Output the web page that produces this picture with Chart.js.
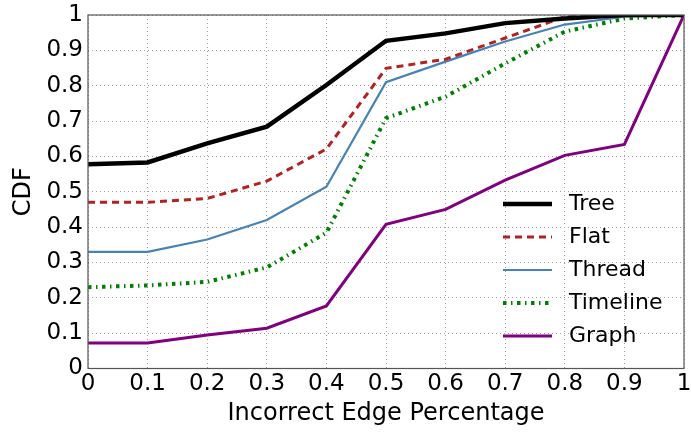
<!DOCTYPE html>
<html>
<head>
<meta charset="utf-8">
<script src="https://cdn.jsdelivr.net/npm/chart.js@4/dist/chart.umd.min.js"></script>
<style>
  html, body { margin: 0; padding: 0; background: #ffffff; }
  #wrap { width: 691px; height: 433px; }
</style>
</head>
<body>
<div id="wrap"><canvas id="cdf" width="691" height="433"></canvas></div>
<script>
// Fraction of incorrect edges (x) and cumulative share of threads (y) per structure
const edgeFractions = [0, 0.1, 0.2, 0.3, 0.4, 0.5, 0.6, 0.7, 0.8, 0.9, 1.0];
const treeCdf     = [0.578, 0.583, 0.637, 0.684, 0.802, 0.927, 0.948, 0.977, 0.990, 1.0, 1.0];
const flatCdf     = [0.470, 0.470, 0.481, 0.530, 0.621, 0.849, 0.875, 0.935, 0.995, 1.0, 1.0];
const threadCdf   = [0.330, 0.330, 0.365, 0.420, 0.514, 0.810, 0.868, 0.925, 0.973, 0.995, 1.0];
const timelineCdf = [0.230, 0.235, 0.245, 0.286, 0.384, 0.708, 0.769, 0.863, 0.953, 0.990, 1.0];
const graphCdf    = [0.072, 0.072, 0.095, 0.114, 0.177, 0.408, 0.450, 0.533, 0.603, 0.634, 1.0];
const seriesNames = ['Tree', 'Flat', 'Thread', 'Timeline', 'Graph'];
const axisTicks   = [0, 0.1, 0.2, 0.3, 0.4, 0.5, 0.6, 0.7, 0.8, 0.9, 1.0];

const FONT = 'DejaVu Sans';

function toPoints(ys) {
  return ys.map((y, i) => ({ x: edgeFractions[i], y }));
}

function tickText(v) {
  if (Math.abs(v) < 1e-9) return '0';
  if (Math.abs(v - 1) < 1e-9) return '1';
  return v.toFixed(1);
}

// Fixed axis box sizes; edge labels may hang over the plot corners
function fixBox(size, horizontal) {
  return function (s) {
    if (horizontal) s.height = size; else s.width = size;
    s.paddingLeft = 0; s.paddingRight = 0; s.paddingTop = 0; s.paddingBottom = 0;
  };
}

// Box around the plotting area on all four sides
const frame = {
  id: 'frame',
  afterDatasetsDraw(chart) {
    const { ctx, chartArea: a } = chart;
    ctx.save();
    ctx.strokeStyle = '#555555';
    ctx.lineWidth = 1.2;
    ctx.strokeRect(a.left, a.top, a.right - a.left, a.bottom - a.top);
    ctx.restore();
  }
};

// Frameless legend in the lower right of the plot
const lineLegend = {
  id: 'lineLegend',
  afterDraw(chart) {
    const { ctx, chartArea: a } = chart;
    const x0 = a.right - 181, x1 = a.right - 132, tx = a.right - 115;
    const lastRowY = a.bottom - 32.5, rowGap = 33;
    const sets = chart.data.datasets;
    ctx.save();
    sets.forEach((ds, i) => {
      const y = lastRowY - (sets.length - 1 - i) * rowGap;
      ctx.strokeStyle = ds.borderColor;
      ctx.lineWidth = ds.borderWidth;
      ctx.setLineDash(ds.borderDash || []);
      ctx.lineCap = 'butt';
      ctx.beginPath();
      ctx.moveTo(x0, y);
      ctx.lineTo(x1, y);
      ctx.stroke();
      ctx.setLineDash([]);
      ctx.fillStyle = '#000000';
      ctx.font = '22px "' + FONT + '"';
      ctx.textAlign = 'left';
      ctx.textBaseline = 'middle';
      ctx.fillText(ds.label, tx, y);
    });
    ctx.restore();
  }
};

const gridStyle = {
  color: '#a0a0a0',
  lineWidth: 1,
  drawTicks: false
};

new Chart(document.getElementById('cdf'), {
  type: 'line',
  data: {
    datasets: [
      { label: seriesNames[0], data: toPoints(treeCdf), borderColor: '#000000', borderWidth: 4.5 },
      { label: seriesNames[1], data: toPoints(flatCdf), borderColor: '#b22222', borderWidth: 3, borderDash: [7, 5] },
      { label: seriesNames[2], data: toPoints(threadCdf), borderColor: '#4682b4', borderWidth: 2.2 },
      { label: seriesNames[3], data: toPoints(timelineCdf), borderColor: '#008000', borderWidth: 4, borderDash: [3.5, 4.5, 1.5, 4.5] },
      { label: seriesNames[4], data: toPoints(graphCdf), borderColor: '#800080', borderWidth: 3 }
    ].map(ds => Object.assign(ds, { pointRadius: 0, pointHoverRadius: 0, tension: 0, fill: false }))
  },
  options: {
    responsive: false,
    devicePixelRatio: 1,
    animation: false,
    layout: { padding: { left: 0, right: 7, top: 15, bottom: 0 } },
    plugins: { legend: { display: false }, tooltip: { enabled: false } },
    scales: {
      x: {
        type: 'linear',
        min: 0,
        max: 1,
        afterBuildTicks(s) { s.ticks = axisTicks.map(v => ({ value: v })); },
        afterFit: fixBox(64.5, true),
        grid: gridStyle,
        border: { display: false, dash: [1, 3] },
        ticks: {
          padding: 2,
          color: '#000000',
          font: { family: FONT, size: 23 },
          maxRotation: 0,
          autoSkip: false,
          callback: v => tickText(v)
        },
        title: {
          display: true,
          text: 'Incorrect Edge Percentage',
          color: '#000000',
          font: { family: FONT, size: 24 },
          padding: { top: 0, bottom: 5 }
        }
      },
      y: {
        type: 'linear',
        min: 0,
        max: 1,
        afterBuildTicks(s) { s.ticks = axisTicks.map(v => ({ value: v })); },
        afterFit: fixBox(88, false),
        grid: gridStyle,
        border: { display: false, dash: [1, 3] },
        ticks: {
          padding: 5,
          color: '#000000',
          font: { family: FONT, size: 23 },
          autoSkip: false,
          callback: v => tickText(v)
        },
        title: {
          display: true,
          text: 'CDF',
          color: '#000000',
          font: { family: FONT, size: 24 },
          padding: { top: 9, bottom: 0 }
        }
      }
    }
  },
  plugins: [frame, lineLegend]
});
</script>
</body>
</html>
